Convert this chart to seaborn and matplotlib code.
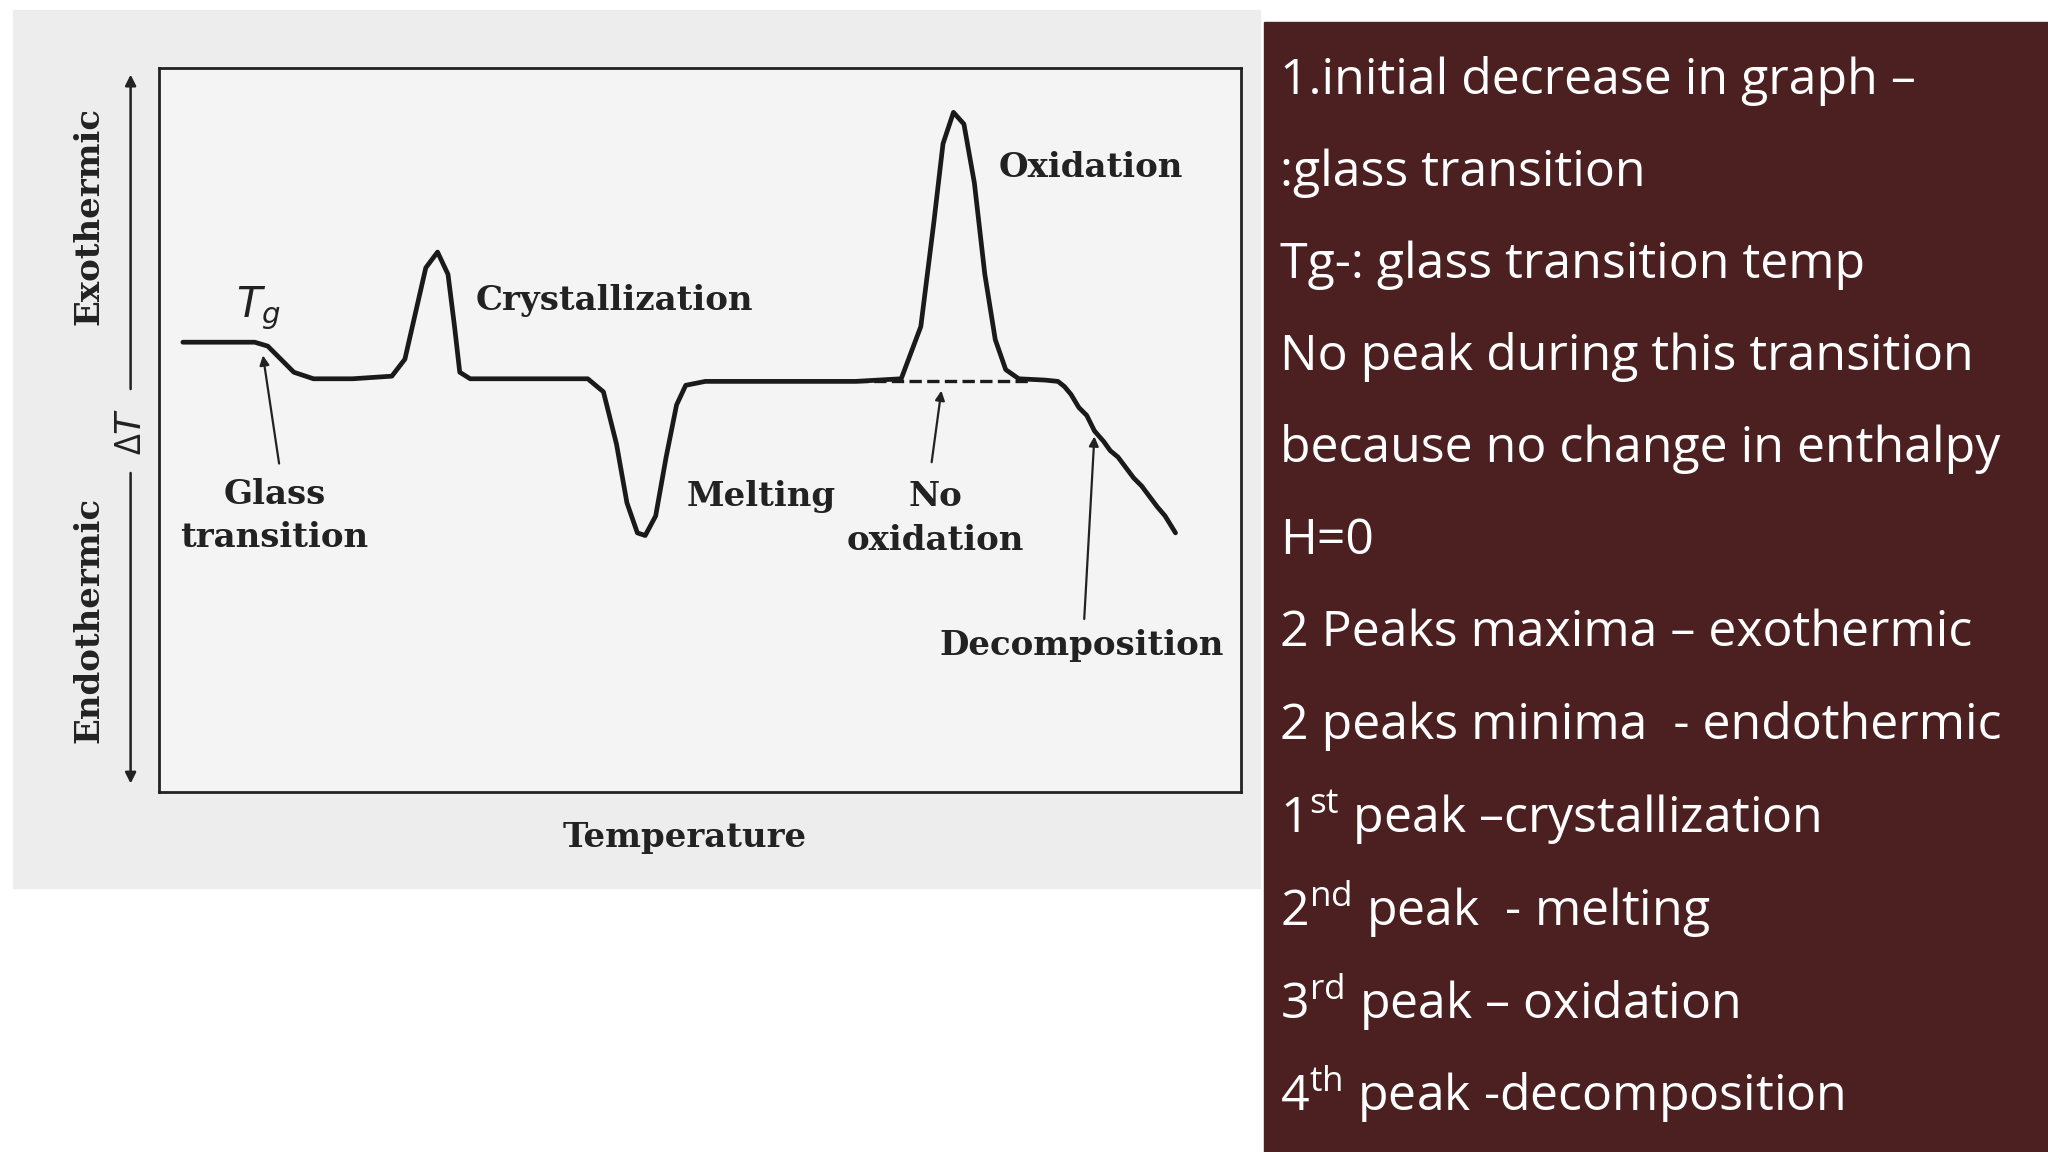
import matplotlib
matplotlib.use("Agg")
import matplotlib.pyplot as plt
import seaborn as sns
import pandas as pd
from matplotlib.patches import Rectangle

# DTA curve (x: temperature, y: screen-like units, larger = lower)
temp = [140, 195, 205, 215, 225, 240, 270, 300, 310, 318, 326, 335, 343, 348, 352, 360,
        450, 462, 472, 480, 488, 494, 502, 510, 518, 525, 540, 655, 690, 705, 715, 722,
        730, 738, 746, 754, 762, 770, 780, 800, 810, 815, 820, 826, 832, 838, 845, 850,
        856, 862, 868, 874, 880, 886, 892, 900]
delta_t = [262, 262, 265, 275, 285, 290, 290, 288, 275, 240, 205, 193, 210, 250, 285, 290,
           290, 300, 340, 385, 408, 410, 395, 350, 310, 295, 292, 292, 290, 250, 170, 110,
           86, 95, 140, 210, 260, 283, 290, 291, 292, 296, 302, 312, 318, 330, 338, 345,
           350, 358, 366, 372, 380, 388, 395, 408]
baseline_x = [655, 790]
baseline_y = [292, 292]

notes = [
    "1.initial decrease in graph –",
    ":glass transition",
    "Tg-: glass transition temp",
    "No peak during this transition",
    "because no change in enthalpy",
    "H=0",
    "2 Peaks maxima – exothermic",
    "2 peaks minima  - endothermic",
    r"1$^{\mathrm{st}}$ peak –crystallization",
    r"2$^{\mathrm{nd}}$ peak  - melting",
    r"3$^{\mathrm{rd}}$ peak – oxidation",
    r"4$^{\mathrm{th}}$ peak -decomposition",
]

sns.set_theme(style="white")
plt.rcParams["font.family"] = ["DejaVu Serif"]
plt.rcParams["mathtext.fontset"] = "custom"
plt.rcParams["mathtext.rm"] = "Open Sans"

W, H = 1568, 882
fig = plt.figure(figsize=(20.48, 11.52), dpi=100)
fig.patch.set_facecolor("white")

# background layer in reference pixel coordinates
bg = fig.add_axes([0, 0, 1, 1])
bg.set_xlim(0, W)
bg.set_ylim(H, 0)
bg.axis("off")
bg.add_patch(Rectangle((10, 8), 955, 672, color="#ededed", zorder=0))
bg.add_patch(Rectangle((968, 17), 600, 870, color="#4c2020", zorder=0))
for i, line in enumerate(notes):
    bg.text(980, 62 + i * 70.5, line, color="white", fontsize=36, family="Open Sans",
            va="center", ha="left")

serif = dict(family="DejaVu Serif", weight="bold", fontsize=24.5, color="#222222")
bg.text(524, 641, "Temperature", ha="center", va="center", **serif)
bg.text(68, 165, "Exothermic", rotation=90, ha="center", va="center", **serif)
bg.text(68, 475, "Endothermic", rotation=90, ha="center", va="center", **serif)
bg.text(100, 330, r"$\it{\Delta T}$", rotation=90, ha="center", va="center",
        fontsize=26, color="#222222")
arr = dict(arrowstyle="-|>", color="#222222", lw=1.8, mutation_scale=16)
bg.annotate("", xy=(100, 55), xytext=(100, 300), arrowprops=arr)
bg.annotate("", xy=(100, 602), xytext=(100, 360), arrowprops=arr)

# chart axes
ax = fig.add_axes([122 / W, 1 - 606 / H, 828 / W, 554 / H])
ax.set_facecolor("#f4f4f4")
df = pd.DataFrame({"temp": temp, "delta_t": delta_t})
sns.lineplot(data=df, x="temp", y="delta_t", sort=False, color="#1a1a1a", lw=3.4, ax=ax)
ax.plot(baseline_x, baseline_y, ls="--", color="#1a1a1a", lw=2.4)
ax.set_xlim(122, 950)
ax.set_ylim(606, 52)
ax.set_xticks([])
ax.set_yticks([])
ax.set_xlabel("")
ax.set_ylabel("")
for s in ax.spines.values():
    s.set_color("#222222")
    s.set_linewidth(2)

ax.text(198, 236, r"$T_g$", ha="center", va="center", fontsize=30, color="#222222",
        family="DejaVu Serif", style="italic")
ax.text(470, 230, "Crystallization", ha="center", va="center", **serif)
ax.text(835, 128, "Oxidation", ha="center", va="center", **serif)
ax.text(210, 395, "Glass\ntransition", ha="center", va="center", linespacing=1.4, **serif)
ax.text(583, 380, "Melting", ha="center", va="center", **serif)
ax.text(716, 397, "No\noxidation", ha="center", va="center", linespacing=1.4, **serif)
ax.text(828, 494, "Decomposition", ha="center", va="center", **serif)
sarr = dict(arrowstyle="-|>", color="#222222", lw=1.6, mutation_scale=14)
ax.annotate("", xy=(201, 270), xytext=(214, 357), arrowprops=sarr)
ax.annotate("", xy=(721, 297), xytext=(713, 356), arrowprops=sarr)
ax.annotate("", xy=(838, 332), xytext=(830, 476), arrowprops=sarr, annotation_clip=False)

fig.savefig("out.png", dpi=100)
